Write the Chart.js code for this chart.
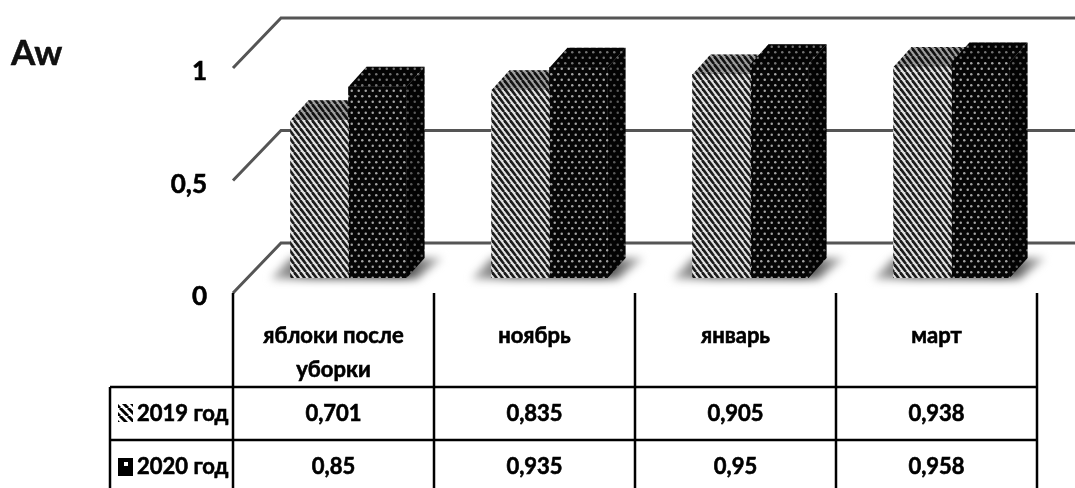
<!DOCTYPE html>
<html>
<head>
<meta charset="utf-8">
<title>Aw</title>
<script src="https://cdn.jsdelivr.net/npm/chart.js@4"></script>
<style>
  html, body { margin: 0; padding: 0; background: #fff; overflow: hidden; }
  canvas { display: block; }
</style>
</head>
<body>
<canvas id="awChart" width="1075" height="488"></canvas>
<script>
const categories = [["яблоки после", "уборки"], "ноябрь", "январь", "март"]
const seriesNames = ["2019 год", "2020 год"]
const values2019 = [0.701, 0.835, 0.905, 0.938]
const values2020 = [0.85, 0.935, 0.95, 0.958]
const cellLabels2019 = ["0,701", "0,835", "0,905", "0,938"]
const cellLabels2020 = ["0,85", "0,935", "0,95", "0,958"]
const tickLabels = ["0", "0,5", "1"]

const fontFamily = "Lato, 'Open Sans', sans-serif"
const boldFont = size => "bold " + size + "px " + fontFamily

// depth of the fake 3d box
const barDepthX = 18, barDepthY = -20
// the wall sits behind the bars, the front edge sits in front of them
const wallX = 33, wallY = -35
const frontX = -15, frontY = 15

function stripeTile(w, h, bg, fg, lw) {
  const c = document.createElement("canvas")
  c.width = w
  c.height = h
  const g = c.getContext("2d")
  g.fillStyle = bg
  g.fillRect(0, 0, w, h)
  g.strokeStyle = fg
  g.lineWidth = lw
  for (let i = -1; i <= 1; i++) {
    g.beginPath()
    g.moveTo(i * w, 0)
    g.lineTo(i * w + w, h)
    g.stroke()
  }
  return c
}

function dotTile(w, h, bg, fg, r) {
  const c = document.createElement("canvas")
  c.width = w
  c.height = h
  const g = c.getContext("2d")
  g.fillStyle = bg
  g.fillRect(0, 0, w, h)
  g.fillStyle = fg
  ;[[w / 4, h / 4], [w * 3 / 4, h * 3 / 4]].forEach(p => {
    g.beginPath()
    g.arc(p[0], p[1], r, 0, Math.PI * 2)
    g.fill()
  })
  return c
}

const ctx = document.getElementById("awChart").getContext("2d")
const stripes = ctx.createPattern(stripeTile(6, 8, "#e2e2e2", "#1c1c1c", 2.6), "repeat")
const dots = ctx.createPattern(dotTile(7, 11, "#060606", "#a4a4a4", 1.25), "repeat")
const keyStripes = ctx.createPattern(stripeTile(8, 8, "#fff", "#000", 3), "repeat")

function face(c, pts, fill, shade) {
  c.beginPath()
  pts.forEach((p, i) => i ? c.lineTo(p[0], p[1]) : c.moveTo(p[0], p[1]))
  c.closePath()
  c.fillStyle = fill
  c.fill()
  if (shade) {
    c.fillStyle = shade
    c.fill()
  }
}

// fill plus a thin outline, the labels are quite heavy
function heavyText(c, text, x, y) {
  c.fillText(text, x, y)
  c.strokeText(text, x, y)
}

const wallAndBoxes = {
  id: "wallAndBoxes",
  beforeDatasetsDraw(chart) {
    const c = chart.ctx
    const y = chart.scales.y
    const left = chart.scales.x.left
    c.save()

    // back wall lines and the slanted bits down to the front edge
    c.strokeStyle = "#555"
    c.lineWidth = 3
    y.ticks.forEach(t => {
      const py = y.getPixelForValue(t.value)
      c.beginPath()
      c.moveTo(left + frontX, py + frontY)
      c.lineTo(left + wallX, py + wallY)
      c.lineTo(chart.width, py + wallY)
      c.stroke()
    })

    // floor shadows
    const first = chart.getDatasetMeta(0).data
    const second = chart.getDatasetMeta(1).data
    first.forEach((bar, i) => {
      const x0 = bar.x - bar.width / 2
      const x1 = second[i].x + second[i].width / 2
      const base = bar.base
      c.save()
      c.filter = "blur(4px)"
      const grad = c.createLinearGradient(x0 - 22, 0, x1 + 38, 0)
      grad.addColorStop(0, "#bbb")
      grad.addColorStop(0.25, "#555")
      grad.addColorStop(0.75, "#333")
      grad.addColorStop(1, "#ccc")
      face(c, [[x0 - 20, base + 1], [x1 + 10, base + 1], [x1 + 36, base - 20], [x0, base - 20]], grad)
      c.restore()
    })

    // tops and sides, 2019 first so 2020 covers it
    ;[0, 1].forEach(d => {
      const fill = d ? dots : stripes
      chart.getDatasetMeta(d).data.forEach(bar => {
        const l = bar.x - bar.width / 2, r = bar.x + bar.width / 2
        const top = bar.y, base = bar.base
        face(c, [[r, top], [r + barDepthX, top + barDepthY], [r + barDepthX, base + barDepthY], [r, base]], fill, "rgba(0,0,0,0.45)")
        face(c, [[l, top], [r, top], [r + barDepthX, top + barDepthY], [l + barDepthX, top + barDepthY]], fill, "rgba(0,0,0,0.3)")
      })
    })
    c.restore()
  }
}

const dataTable = {
  id: "dataTable",
  afterDraw(chart) {
    const c = chart.ctx
    const x = chart.scales.x
    const band = x.width / categories.length
    const edge = i => x.left + frontX + band * i
    const rowTop = 387, rowMid = 440, bottom = 488, headTop = 293, tableLeft = 110

    c.save()
    c.strokeStyle = "#000"
    c.lineWidth = 2.5
    c.beginPath()
    c.moveTo(tableLeft, rowTop)
    c.lineTo(edge(categories.length), rowTop)
    c.moveTo(tableLeft, rowMid)
    c.lineTo(edge(categories.length), rowMid)
    c.moveTo(tableLeft, rowTop)
    c.lineTo(tableLeft, bottom)
    for (let i = 0; i <= categories.length; i++) {
      c.moveTo(edge(i), headTop)
      c.lineTo(edge(i), bottom)
    }
    c.stroke()

    // row headers with their legend keys
    c.fillStyle = keyStripes
    c.fillRect(118, 404, 15, 18)
    c.fillStyle = "#000"
    c.fillRect(118, 458, 15, 18)
    c.fillStyle = "#fff"
    c.fillRect(124, 462, 4, 4)

    c.fillStyle = "#000"
    c.textBaseline = "middle"
    c.font = boldFont(22)
    c.lineWidth = 0.6
    c.textAlign = "left"
    heavyText(c, seriesNames[0], 137, 414)
    heavyText(c, seriesNames[1], 137, 467)
    c.textAlign = "center"
    categories.forEach((cat, i) => {
      const mid = x.getPixelForValue(i) + frontX
      heavyText(c, cellLabels2019[i], mid, 414)
      heavyText(c, cellLabels2020[i], mid, 467)
    })

    // axis name
    c.textAlign = "left"
    c.font = boldFont(35)
    c.lineWidth = 0.5
    c.fillStyle = "#111"
    heavyText(c, "Aw", 11, 54)
    c.restore()
  }
}

new Chart(ctx, {
  type: "bar",
  data: {
    labels: categories,
    datasets: [
      { label: seriesNames[0], data: values2019, backgroundColor: stripes, barThickness: 58 },
      { label: seriesNames[1], data: values2020, backgroundColor: dots, barThickness: 58 }
    ]
  },
  plugins: [wallAndBoxes, dataTable],
  options: {
    responsive: false,
    animation: false,
    layout: { padding: { top: 53, right: 23, left: 0, bottom: 0 } },
    plugins: {
      legend: { display: false },
      tooltip: { enabled: false }
    },
    scales: {
      x: {
        afterFit(s) { s.height = 210 },
        grid: { display: false, drawTicks: false },
        border: { display: false },
        ticks: {
          autoSkip: false,
          maxRotation: 0,
          padding: 41,
          labelOffset: frontX,
          color: "#000",
          textStrokeColor: "#000",
          textStrokeWidth: 0.6,
          font: { family: fontFamily, size: 22, weight: "bold", lineHeight: 1.55 }
        }
      },
      y: {
        min: 0,
        max: 1,
        afterFit(s) {
          s.width = 248
          // keep the labels from pushing the plot area down
          s.paddingTop = 0
          s.paddingBottom = 0
        },
        grid: { display: false, drawTicks: false },
        border: { display: false },
        ticks: {
          stepSize: 0.5,
          padding: 41,
          labelOffset: 19,
          color: "#000",
          textStrokeColor: "#000",
          textStrokeWidth: 0.6,
          font: { family: fontFamily, size: 26, weight: "bold" },
          callback: (v, i) => tickLabels[i]
        }
      }
    }
  }
})
</script>
</body>
</html>
